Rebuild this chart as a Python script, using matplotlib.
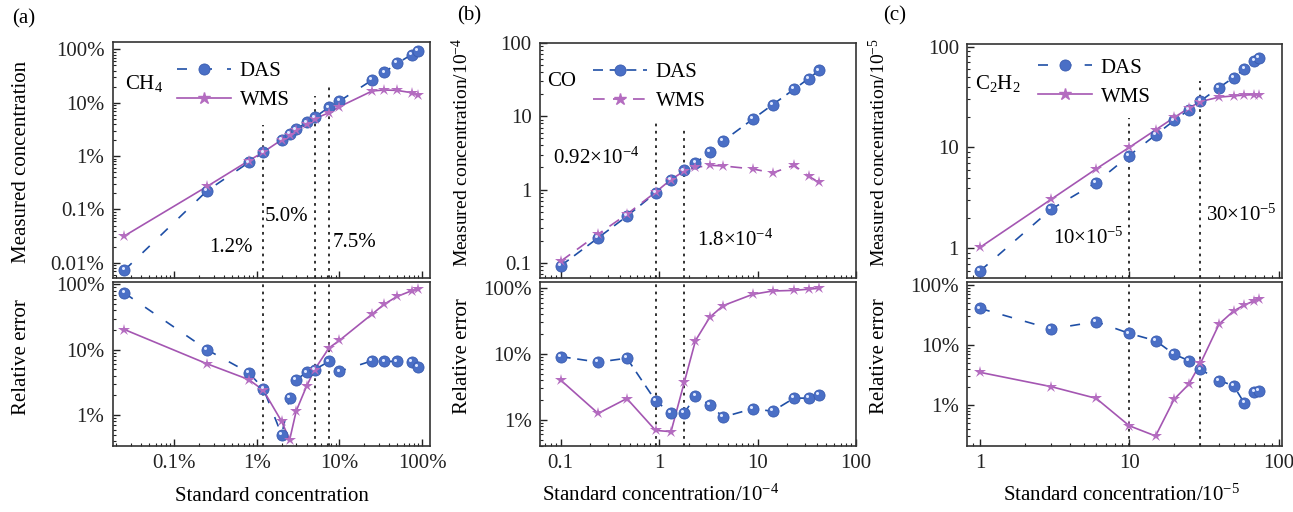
import numpy as np
import matplotlib
matplotlib.use('Agg')
import matplotlib.pyplot as plt
import matplotlib.transforms as mtransforms
from matplotlib.lines import Line2D
from matplotlib.ticker import FixedLocator, LogLocator, NullFormatter, FixedFormatter

plt.rcParams['font.family'] = ['Liberation Serif', 'DejaVu Serif']
plt.rcParams['mathtext.fontset'] = 'custom'
plt.rcParams['mathtext.rm'] = 'Liberation Serif'
plt.rcParams['mathtext.it'] = 'Liberation Serif'
plt.rcParams['mathtext.default'] = 'rm'
plt.rcParams['font.size'] = 15

# ---- (a) CH4, values in percent ----
ch4_std = [0.025, 0.25, 0.8, 1.2, 2.0, 2.5, 3.0, 4.0, 5.0, 7.5, 10, 25, 35, 50, 75, 90]
ch4_das = [0.0073, 0.224, 0.76, 1.17, 2.0, 2.59, 3.17, 4.29, 5.32, 8.2, 10.7, 26.7, 37, 54.8, 79.5, 94.6]
ch4_wms = [0.032, 0.27, 0.82, 1.19, 2.02, 2.5, 3.05, 3.98, 5.0, 6.5, 8.4, 16.6, 17.3, 17.0, 15.4, 13.9]
ch4_das_err = [73.8, 10.0, 4.46, 2.55, 0.50, 1.83, 3.49, 4.5, 4.97, 6.64, 4.68, 6.8, 6.64, 6.64, 6.5, 5.44]
ch4_wms_err = [20.4, 6.1, 3.5, 2.4, 0.8, 0.42, 1.16, 2.76, 4.97, 10.7, 13.9, 35.3, 50, 65.5, 80, 84.6]
ch4_marks = [1.2, 5.0, 7.5]

# ---- (b) CO, values in 1e-4 ----
co_std = [0.1, 0.24, 0.47, 0.92, 1.32, 1.8, 2.34, 3.27, 4.47, 8.9, 14.2, 23.5, 33, 42.3]
co_das = [0.091, 0.219, 0.432, 0.90, 1.34, 1.83, 2.3, 3.26, 4.6, 9.1, 14.4, 23.4, 32.7, 42.4]
co_wms = [0.105, 0.246, 0.46, 0.92, 1.37, 1.79, 2.0, 2.14, 2.1, 1.91, 1.69, 2.14, 1.52, 1.25]
co_das_err = [9.1, 7.5, 8.6, 1.94, 1.26, 1.26, 2.3, 1.69, 1.1, 1.47, 1.35, 2.13, 2.13, 2.4]
co_wms_err = [4.0, 1.25, 2.1, 0.69, 0.66, 3.7, 15.9, 36, 54, 80, 90, 92, 96, 99]
co_marks = [0.92, 1.8]

# ---- (c) C2H2, values in 1e-5 ----
c2h2_std = [1, 3, 6, 10, 15, 20, 25, 30, 40, 50, 59, 69, 74]
c2h2_das = [0.595, 2.44, 4.48, 8.3, 13.3, 18.5, 23.5, 28.9, 39.2, 49.3, 60, 72, 76.7]
c2h2_wms = [1.02, 3.06, 6.12, 10.0, 14.9, 19.8, 24.5, 28.5, 31.5, 32.4, 33.0, 33.4, 33.4]
c2h2_das_err = [40.8, 18.5, 24.5, 15.6, 11.8, 7.0, 5.5, 3.93, 2.55, 2.1, 1.07, 1.67, 1.73]
c2h2_wms_err = [3.5, 2.02, 1.29, 0.45, 0.304, 1.25, 2.2, 4.94, 22.4, 36.9, 46.4, 54.8, 57.7]
c2h2_marks = [10, 30]

DAS_FACE = '#4a6fc6'
DAS_LINE = '#1f4fa6'
WMS_COL = '#b46cc0'
WMS_LINE = '#a456b2'

fig = plt.figure(figsize=(12.93, 5.12), dpi=100)
W, H = 1293, 512


def make_axes(left, right, top1, bot1, top2, bot2):
    ax1 = fig.add_axes([left / W, 1 - bot1 / H, (right - left) / W, (bot1 - top1) / H])
    ax2 = fig.add_axes([left / W, 1 - bot2 / H, (right - left) / W, (bot2 - top2) / H])
    return ax1, ax2


def style(ax):
    ax.set_xscale('log')
    ax.set_yscale('log')
    for s in ax.spines.values():
        s.set_linewidth(1.2)
        s.set_color('#333333')
    ax.tick_params(which='both', direction='in', top=False, right=False, colors='#222222')
    ax.tick_params(which='major', length=5, width=1.0, pad=6, labelsize=15)
    ax.tick_params(which='minor', length=2.5, width=0.8)
    ax.xaxis.set_minor_locator(LogLocator(base=10, subs=np.arange(2, 10)))
    ax.yaxis.set_minor_locator(LogLocator(base=10, subs=np.arange(2, 10)))
    ax.xaxis.set_minor_formatter(NullFormatter())
    ax.yaxis.set_minor_formatter(NullFormatter())


def set_ticks(axis, vals, labels):
    axis.set_major_locator(FixedLocator(vals))
    axis.set_major_formatter(FixedFormatter(labels))


def draw_das(ax, x, y, dashes=(6, 6)):
    ax.plot(x, y, color=DAS_LINE, lw=1.2, dashes=dashes, zorder=2)
    ax.plot(x, y, 'o', ms=8, mfc=DAS_FACE, mec='#3a5cb0', mew=0.6, zorder=3)
    off = mtransforms.ScaledTranslation(-1.3 / 72, 1.3 / 72, fig.dpi_scale_trans)
    ax.plot(x, y, 'o', ms=2.2, color='#dfe8ff', mew=0, zorder=4, transform=ax.transData + off)


def draw_wms(ax, x, y, dashed=False):
    if dashed:
        ax.plot(x, y, color=WMS_LINE, lw=1.2, dashes=(7, 5), zorder=2)
    else:
        ax.plot(x, y, color=WMS_LINE, lw=1.2, zorder=2)
    ax.plot(x, y, '*', ms=9, color=WMS_COL, mew=0, zorder=3)


def legend(ax, x, y, das_dash, wms_style):
    h1 = Line2D([], [], color=DAS_LINE, lw=1.2, dashes=das_dash, marker='o', ms=8,
                mfc=DAS_FACE, mec='#3a5cb0', mew=0.6)
    if wms_style == 'solid':
        h2 = Line2D([], [], color=WMS_LINE, lw=1.2, marker='*', ms=9, mfc=WMS_COL, mec=WMS_COL)
    else:
        h2 = Line2D([], [], color=WMS_LINE, lw=1.2, dashes=(7, 5), marker='*', ms=9,
                    mfc=WMS_COL, mec=WMS_COL)
    ax.legend([h1, h2], ['DAS', 'WMS'], loc='upper left', bbox_to_anchor=(x, y),
              frameon=False, fontsize=15, handlelength=2.6, handletextpad=0.4,
              labelspacing=0.45, borderpad=0, borderaxespad=0)


def xlabel(ax, text, xfrac):
    ax.set_xlabel(text, fontsize=15)
    ax.xaxis.set_label_coords(xfrac, -0.335)
    ax.xaxis.label.set_va('baseline')


# ================= (a) =================
a1, a2 = make_axes(112.7, 430, 41.7, 278, 282, 446)
for ax in (a1, a2):
    style(ax)
    ax.set_xlim(0.018, 125)
a1.set_ylim(0.0052, 139)
a2.set_ylim(0.337, 109)

draw_das(a1, ch4_std, ch4_das, dashes=(6, 9))
draw_wms(a1, ch4_std, ch4_wms)
draw_das(a2, ch4_std, ch4_das_err, dashes=(6, 9))
draw_wms(a2, ch4_std, ch4_wms_err)

for xv, top in zip(ch4_marks, [0.647, 0.77, 0.821]):
    a1.axvline(xv, ymax=top, color='#222222', ls=(0, (1.5, 2.5)), lw=1.3, zorder=1)
    a2.axvline(xv, color='#222222', ls=(0, (1.5, 2.5)), lw=1.3, zorder=1)

set_ticks(a1.yaxis, [0.01, 0.1, 1, 10, 100], ['0.01%', '0.1%', '1%', '10%', '100%'])
set_ticks(a2.yaxis, [1, 10, 100], ['1%', '10%', '100%'])
set_ticks(a1.xaxis, [0.1, 1, 10, 100], ['', '', '', ''])
set_ticks(a2.xaxis, [0.1, 1, 10, 100], ['0.1%', '1%', '10%', '100%'])

a1.text(0.039, 0.825, 'CH$_4$', transform=a1.transAxes, va='center', fontsize=15)
a1.text(0.44, 0.127, '1.2%', transform=a1.transAxes, ha='right', va='center', fontsize=15)
a1.text(0.48, 0.262, '5.0%', transform=a1.transAxes, ha='left', va='center', fontsize=15)
a1.text(0.694, 0.152, '7.5%', transform=a1.transAxes, ha='left', va='center', fontsize=15)
legend(a1, 0.203, 0.917, (6, 9), 'solid')

a1.set_ylabel('Measured concentration', fontsize=15)
a1.yaxis.set_label_coords(-0.256, 0.493)
a2.set_ylabel('Relative error', fontsize=15)
a2.yaxis.set_label_coords(-0.256, 0.54)
xlabel(a2, 'Standard concentration', 0.502)
fig.text(24 / W, 1 - 19 / H, '(a)', ha='center', va='center', fontsize=15)

# ================= (b) =================
b1, b2 = make_axes(540, 856, 42.7, 278, 282.3, 446)
for ax in (b1, b2):
    style(ax)
    ax.set_xlim(0.0616, 100)
b1.set_ylim(0.062, 101)
b2.set_ylim(0.40, 122)

draw_das(b1, co_std, co_das, dashes=(6, 4))
draw_wms(b1, co_std, co_wms, dashed=True)
draw_das(b2, co_std, co_das_err, dashes=(6, 4))
draw_wms(b2, co_std, co_wms_err)

for xv, top in zip(co_marks, [0.659, 0.642]):
    b1.axvline(xv, ymax=top, color='#222222', ls=(0, (1.5, 2.5)), lw=1.3, zorder=1)
    b2.axvline(xv, color='#222222', ls=(0, (1.5, 2.5)), lw=1.3, zorder=1)

set_ticks(b1.yaxis, [0.1, 1, 10, 100], ['0.1', '1', '10', '100'])
set_ticks(b2.yaxis, [1, 10, 100], ['1%', '10%', '100%'])
set_ticks(b1.xaxis, [0.1, 1, 10, 100], ['', '', '', ''])
set_ticks(b2.xaxis, [0.1, 1, 10, 100], ['0.1', '1', '10', '100'])

b1.text(0.022, 0.833, 'CO', transform=b1.transAxes, va='center', fontsize=15)
b1.text(0.041, 0.51, '0.92×10$^{-4}$', transform=b1.transAxes, va='center', fontsize=15)
b1.text(0.497, 0.161, '1.8×10$^{-4}$', transform=b1.transAxes, va='center', fontsize=15)
legend(b1, 0.168, 0.915, (6, 4), 'dashed')

b1.set_ylabel('Measured concentration/10$^{-4}$', fontsize=14)
b1.yaxis.set_label_coords(-0.215, 0.535)
b2.set_ylabel('Relative error', fontsize=15)
b2.yaxis.set_label_coords(-0.215, 0.55)
xlabel(b2, 'Standard concentration/10$^{-4}$', 0.38)
fig.text(469 / W, 1 - 16 / H, '(b)', ha='center', va='center', fontsize=15)

# ================= (c) =================
c1, c2 = make_axes(967.3, 1281.7, 44, 278, 282.3, 446)
for ax in (c1, c2):
    style(ax)
    ax.set_xlim(0.822, 105)
c1.set_ylim(0.507, 106)
c2.set_ylim(0.207, 111)

draw_das(c1, c2h2_std, c2h2_das, dashes=(6, 8))
draw_wms(c1, c2h2_std, c2h2_wms)
draw_das(c2, c2h2_std, c2h2_das_err, dashes=(6, 8))
draw_wms(c2, c2h2_std, c2h2_wms_err)

for xv, top in zip(c2h2_marks, [0.684, 0.843]):
    c1.axvline(xv, ymax=top, color='#222222', ls=(0, (1.5, 2.5)), lw=1.3, zorder=1)
    c2.axvline(xv, color='#222222', ls=(0, (1.5, 2.5)), lw=1.3, zorder=1)

set_ticks(c1.yaxis, [1, 10, 100], ['1', '10', '100'])
set_ticks(c2.yaxis, [1, 10, 100], ['1%', '10%', '100%'])
set_ticks(c1.xaxis, [1, 10, 100], ['', '', ''])
set_ticks(c2.xaxis, [1, 10, 100], ['1', '10', '100'])

c1.text(0.024, 0.833, 'C$_2$H$_2$', transform=c1.transAxes, va='center', fontsize=15)
c1.text(0.273, 0.171, '10×10$^{-5}$', transform=c1.transAxes, va='center', fontsize=15)
c1.text(0.76, 0.269, '30×10$^{-5}$', transform=c1.transAxes, va='center', fontsize=15)
legend(c1, 0.225, 0.94, (6, 8), 'solid')

c1.set_ylabel('Measured concentration/10$^{-5}$', fontsize=14)
c1.yaxis.set_label_coords(-0.25, 0.538)
c2.set_ylabel('Relative error', fontsize=15)
c2.yaxis.set_label_coords(-0.25, 0.55)
xlabel(c2, 'Standard concentration/10$^{-5}$', 0.49)
fig.text(895 / W, 1 - 16 / H, '(c)', ha='center', va='center', fontsize=15)

fig.savefig('out.png', dpi=100)
